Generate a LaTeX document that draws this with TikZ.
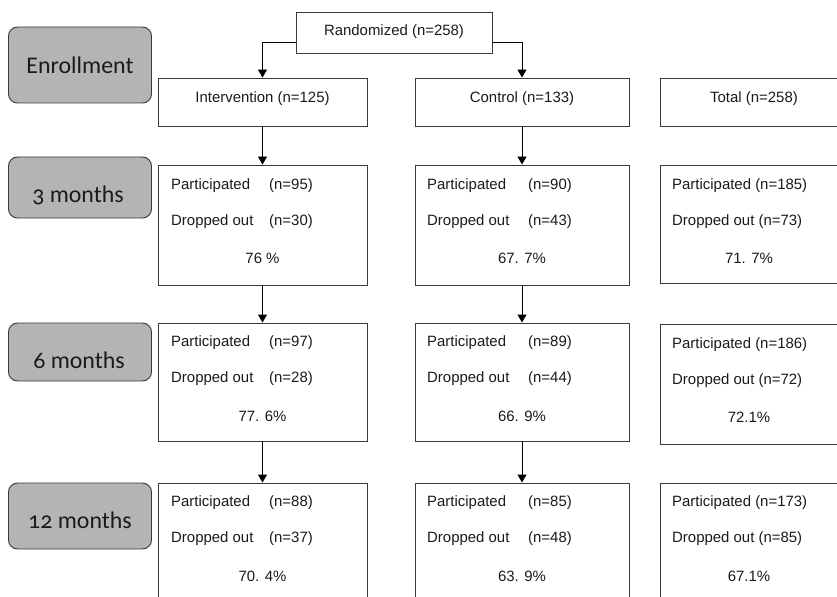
\documentclass[tikz,border=0pt]{standalone}
\usepackage{fontspec}
\setmainfont{Liberation Sans}
\newfontfamily\labelfont[Numbers=OldStyle]{Carlito}
\usetikzlibrary{arrows.meta}
\definecolor{stagefill}{HTML}{B4B4B4}
\definecolor{edge}{HTML}{3A3A3A}
\definecolor{ink}{HTML}{1A1A1A}
\tikzset{
  stage/.style={draw=edge, fill=stagefill, rounded corners=9bp, line width=0.9bp,
    minimum width=143bp, inner sep=0},
  stagetext/.style={anchor=base, inner sep=0, text=ink,
    font=\labelfont\fontsize{24}{28}\selectfont},
  group/.style={draw=edge, line width=0.9bp, inner sep=0, minimum height=48bp},
  wave/.style={draw=edge, line width=0.9bp, inner sep=0, minimum height=120bp},
  txt/.style={inner sep=0, text=ink, font=\fontsize{15}{18}\selectfont},
  flow/.style={draw=black, line width=0.9bp, -{Triangle[length=8bp,width=9bp]}},
}
\begin{document}
\begin{tikzpicture}[x=1bp, y=-1bp]
\useasboundingbox (0,0) rectangle (837,597);
\clip (0,0) rectangle (837,597);

% stage labels on the left
\node[stage, minimum height=76bp] (lenr) at (80,65) {};
\node[stagetext] (tenr) at (80,74) {Enrollment};
\node[stage, minimum height=61bp] (l3) at (80,187.5) {};
\node[stagetext] (tl3) at (78,203) {3 months};
\node[stage, minimum height=58bp] (l6) at (80,352) {};
\node[stagetext] (tl6) at (79,368) {6 months};
\node[stage, minimum height=66bp] (l12) at (80,516) {};
\node[stagetext] (tl12) at (80,528) {12 months};

% randomisation and groups
\node[group, minimum width=196bp, minimum height=41bp] (rand) at (394,32.5) {};
\node[txt] (trand) at (394,32) {Randomized (n=258)};
\node[group, minimum width=209bp] (int0) at (262.5,102) {};
\node[txt] (tint0) at (262.5,99) {Intervention (n=125)};
\node[group, minimum width=214bp] (con0) at (522,102) {};
\node[txt] (tcon0) at (522,99) {Control (n=133)};
\node[group, minimum width=188bp] (tot0) at (754,102) {};
\node[txt] (ttot0) at (754,99) {Total (n=258)};

% follow-up boxes
\node[wave, minimum width=209bp] (int3) at (262.5,225) {};
\node[wave, minimum width=214bp] (con3) at (522,225) {};
\node[wave, minimum width=188bp, minimum height=118bp] (tot3) at (754,224) {};
\node[wave, minimum width=209bp, minimum height=118bp] (int6) at (262.5,382) {};
\node[wave, minimum width=214bp, minimum height=118bp] (con6) at (522,382) {};
\node[wave, minimum width=188bp] (tot6) at (754,384) {};
\node[wave, minimum width=209bp] (int12) at (262.5,543) {};
\node[wave, minimum width=214bp] (con12) at (522,543) {};
\node[wave, minimum width=188bp] (tot12) at (754,543) {};

% 3 months
\node[txt, anchor=west] (i3a) at (171,186) {Participated};
\node[txt, anchor=west] (i3b) at (269,186) {(n=95)};
\node[txt, anchor=west] (i3c) at (171,222) {Dropped out};
\node[txt, anchor=west] (i3d) at (269,222) {(n=30)};
\node[txt] (i3e) at (262.5,258) {76 \%};
\node[txt, anchor=west] (c3a) at (427,186) {Participated};
\node[txt, anchor=west] (c3b) at (528,186) {(n=90)};
\node[txt, anchor=west] (c3c) at (427,222) {Dropped out};
\node[txt, anchor=west] (c3d) at (528,222) {(n=43)};
\node[txt] (c3e) at (522,258) {67. 7\%};
\node[txt, anchor=west] (t3a) at (672,186) {Participated (n=185)};
\node[txt, anchor=west] (t3b) at (672,222) {Dropped out (n=73)};
\node[txt] (t3c) at (749,258) {71. 7\%};

% 6 months
\node[txt, anchor=west] (i6a) at (171,343) {Participated};
\node[txt, anchor=west] (i6b) at (269,343) {(n=97)};
\node[txt, anchor=west] (i6c) at (171,379) {Dropped out};
\node[txt, anchor=west] (i6d) at (269,379) {(n=28)};
\node[txt] (i6e) at (262.5,416) {77. 6\%};
\node[txt, anchor=west] (c6a) at (427,343) {Participated};
\node[txt, anchor=west] (c6b) at (528,343) {(n=89)};
\node[txt, anchor=west] (c6c) at (427,379) {Dropped out};
\node[txt, anchor=west] (c6d) at (528,379) {(n=44)};
\node[txt] (c6e) at (522,416) {66. 9\%};
\node[txt, anchor=west] (t6a) at (672,345) {Participated (n=186)};
\node[txt, anchor=west] (t6b) at (672,381) {Dropped out (n=72)};
\node[txt] (t6c) at (749,417) {72.1\%};

% 12 months
\node[txt, anchor=west] (i12a) at (171,503) {Participated};
\node[txt, anchor=west] (i12b) at (269,503) {(n=88)};
\node[txt, anchor=west] (i12c) at (171,539) {Dropped out};
\node[txt, anchor=west] (i12d) at (269,539) {(n=37)};
\node[txt] (i12e) at (262.5,576) {70. 4\%};
\node[txt, anchor=west] (c12a) at (427,503) {Participated};
\node[txt, anchor=west] (c12b) at (528,503) {(n=85)};
\node[txt, anchor=west] (c12c) at (427,539) {Dropped out};
\node[txt, anchor=west] (c12d) at (528,539) {(n=48)};
\node[txt] (c12e) at (522,576) {63. 9\%};
\node[txt, anchor=west] (t12a) at (672,503) {Participated (n=173)};
\node[txt, anchor=west] (t12b) at (672,539) {Dropped out (n=85)};
\node[txt] (t12c) at (749,576) {67.1\%};

% connectors
\draw[flow] ([yshift=-9.5bp]rand.west) -| (int0.north);
\draw[flow] ([yshift=-9.5bp]rand.east) -| (con0.north);
\draw[flow] (int0.south) -- (int3.north);
\draw[flow] (int3.south) -- (int6.north);
\draw[flow] (int6.south) -- (int12.north);
\draw[flow] (con0.south) -- (con3.north);
\draw[flow] (con3.south) -- (con6.north);
\draw[flow] (con6.south) -- (con12.north);
\end{tikzpicture}
\end{document}
